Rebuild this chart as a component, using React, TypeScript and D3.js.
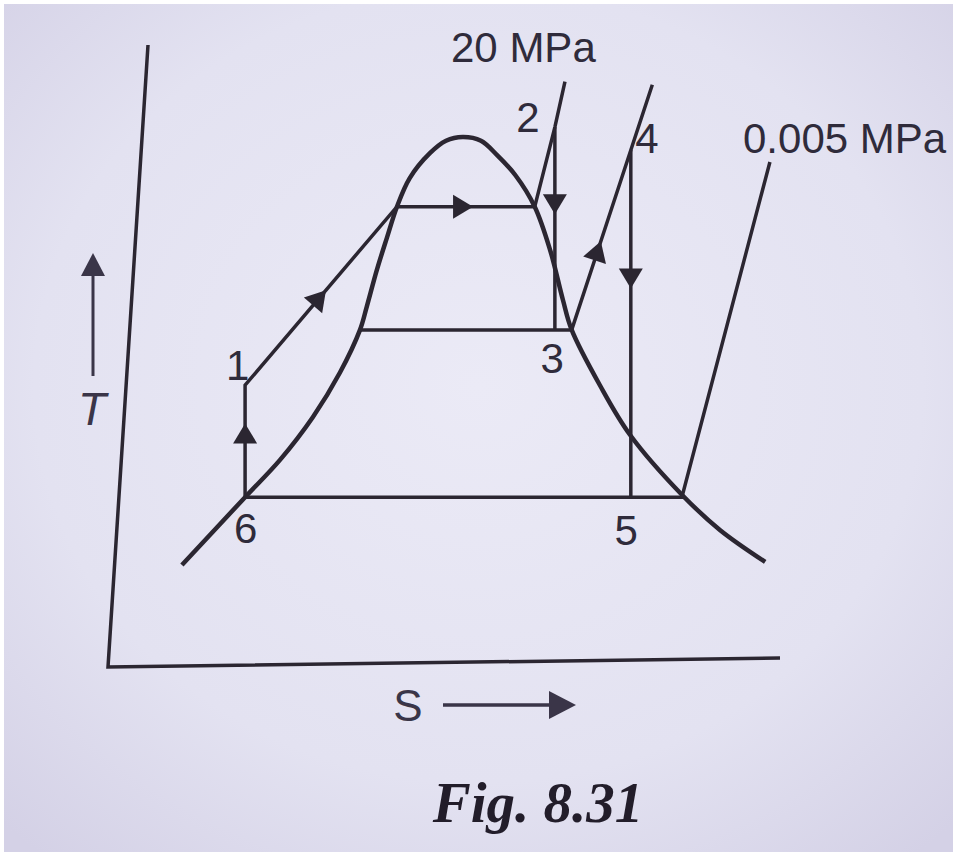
import * as d3 from 'd3';

// entropy / temperature in arbitrary diagram units
const domeS = [1.1, 2.04, 2.56, 3.05, 3.45, 3.75, 3.85, 4.0, 4.15, 4.3, 4.49, 4.79, 5.03, 5.28, 5.55, 5.79, 6.06, 6.35, 6.58, 6.77, 6.9, 7.32, 7.77, 8.54, 9.11, 9.78];
const domeT = [1.64, 2.73, 3.33, 4.02, 4.73, 5.42, 5.79, 6.38, 6.9, 7.4, 7.86, 8.26, 8.46, 8.52, 8.46, 8.23, 7.91, 7.4, 6.7, 5.9, 5.42, 4.53, 3.73, 2.77, 2.2, 1.69];

// state points
const pointNames = ['6', '1', 'a', 'b', '2', '3', '3s', '4', '5', 'c'];
const pointS = [2.04, 2.04, 4.3, 6.35, 6.65, 6.65, 6.9, 7.78, 7.78, 8.54];
const pointT = [2.73, 4.53, 7.4, 7.4, 8.68, 5.42, 5.42, 8.31, 2.73, 2.73];

// isobar end points
const hpTop = { s: 6.8, t: 9.41 };
const ipLeft = { s: 3.75, t: 5.42 };
const ipTop = { s: 8.1, t: 9.36 };
const lpTop = { s: 9.85, t: 8.12 };

// process arrows: [from, to, fraction along]
const arrows: [string, string, number][] = [
  ['6', '1', 0.57],
  ['1', 'a', 0.49],
  ['a', 'b', 0.48],
  ['2', '3', 0.38],
  ['3s', '4', 0.44],
  ['4', '5', 0.37],
];

const labels = [
  { text: '1', s: 1.93, t: 4.61 },
  { text: '2', s: 6.25, t: 8.6 },
  { text: '3', s: 6.61, t: 4.73 },
  { text: '4', s: 8.02, t: 8.26 },
  { text: '5', s: 7.71, t: 1.96 },
  { text: '6', s: 2.05, t: 1.99 },
];

const W = 957;
const H = 856;
const ink = '#2b2631';
const textInk = '#2f2b3b';
const sans = "'Liberation Sans', Arial, sans-serif";

export default function App() {
  const x = d3.scaleLinear().domain([0, 10]).range([108, 780]);
  const y = d3.scaleLinear().domain([0, 10]).range([667, 45]);

  const P = (n: string) => {
    const i = pointNames.indexOf(n);
    return [x(pointS[i]), y(pointT[i])] as [number, number];
  };

  const line = d3.line<[number, number]>();
  const domePath = d3
    .line<number>()
    .x((_, i) => x(domeS[i]))
    .y((_, i) => y(domeT[i]))
    .curve(d3.curveCatmullRom.alpha(0.5))(domeS);

  const segs: [number, number][][] = [
    [P('6'), P('1'), P('a'), P('b'), P('2'), [x(hpTop.s), y(hpTop.t)]],
    [P('2'), P('3')],
    [[x(ipLeft.s), y(ipLeft.t)], P('3s'), [x(ipTop.s), y(ipTop.t)]],
    [P('4'), P('5')],
    [P('6'), P('c'), [x(lpTop.s), y(lpTop.t)]],
  ];

  const arrowHead = (a: string, b: string, f: number, key: number) => {
    const [x1, y1] = P(a);
    const [x2, y2] = P(b);
    const cx = x1 + (x2 - x1) * f;
    const cy = y1 + (y2 - y1) * f;
    const ang = (Math.atan2(y2 - y1, x2 - x1) * 180) / Math.PI;
    return (
      <path
        key={key}
        d="M10,0 L-10,-12 L-10,12 Z"
        fill={ink}
        transform={`translate(${cx},${cy}) rotate(${ang})`}
      />
    );
  };

  return (
    <svg width={W} height={H} style={{ position: 'absolute', left: 0, top: 0 }}>
      <defs>
        <radialGradient id="paper" cx="50%" cy="45%" r="72%">
          <stop offset="0%" stopColor="#ebeaf6" />
          <stop offset="65%" stopColor="#e3e2f1" />
          <stop offset="100%" stopColor="#d4d1e6" />
        </radialGradient>
      </defs>
      <rect width={W} height={H} fill="#ffffff" />
      <rect x={4} y={4} width={W - 8} height={H - 8} fill="url(#paper)" />

      {/* axes */}
      <path d={line([[148, 45], [108, 667], [780, 658]]) ?? ''} fill="none" stroke={ink} strokeWidth={3.5} />

      {/* saturation dome */}
      <path d={domePath ?? ''} fill="none" stroke={ink} strokeWidth={4.5} />

      {/* cycle lines */}
      {segs.map((s, i) => (
        <path key={i} d={line(s) ?? ''} fill="none" stroke={ink} strokeWidth={3.5} strokeLinejoin="miter" />
      ))}

      {arrows.map(([a, b, f], i) => arrowHead(a, b, f, i))}

      {/* point labels */}
      <g fontFamily={sans} fontSize={42} fill={textInk}>
        {labels.map((l) => (
          <text key={l.text} x={x(l.s)} y={y(l.t)} textAnchor="middle">
            {l.text}
          </text>
        ))}
        <text x={451} y={62}>20 MPa</text>
        <text x={743} y={153}>0.005 MPa</text>
      </g>

      {/* axis titles */}
      <g fill="#3a3548" stroke="#3a3548">
        <text x={92} y={425} fontFamily={sans} fontStyle="italic" fontWeight={300} fontSize={46} stroke="none" textAnchor="middle">
          T
        </text>
        <line x1={93} y1={376} x2={93} y2={272} strokeWidth={3} />
        <path d="M93,253 L81,276 L105,276 Z" stroke="none" />
        <text x={408} y={721} fontFamily={sans} fontSize={44} stroke="none" textAnchor="middle">
          S
        </text>
        <line x1={443} y1={705} x2={552} y2={705} strokeWidth={3.5} />
        <path d="M576,705 L549,691 L549,719 Z" stroke="none" />
      </g>

      <text
        x={538}
        y={822}
        textAnchor="middle"
        fontFamily="'Liberation Serif', 'Times New Roman', serif"
        fontStyle="italic"
        fontWeight="bold"
        fontSize={57}
        fill="#221d2a"
      >
        Fig.  8.31
      </text>
    </svg>
  );
}
